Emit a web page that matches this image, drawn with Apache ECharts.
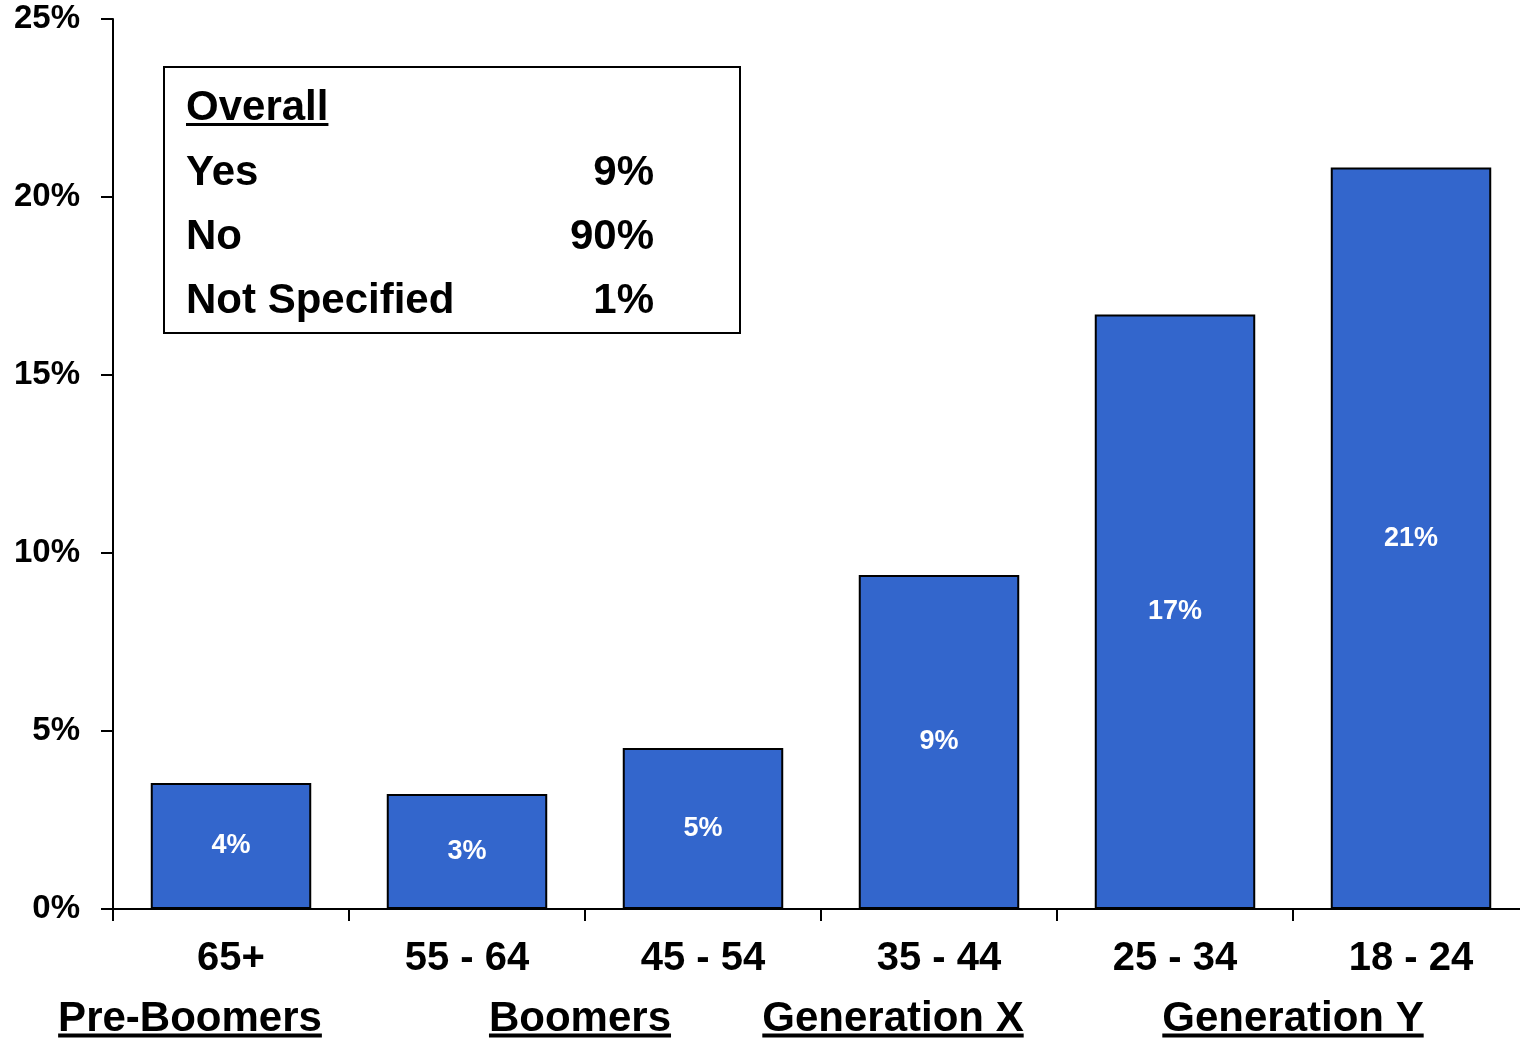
<!DOCTYPE html>
<html>
<head>
<meta charset="utf-8">
<title>Share answering Yes by age group</title>
<script src="https://cdn.jsdelivr.net/npm/echarts@6/dist/echarts.min.js"></script>
<style>
  html, body { margin: 0; padding: 0; background: #ffffff; }
  #chart { width: 1520px; height: 1040px; }
</style>
</head>
<body>
<div id="chart"></div>
<script>
// Age groups, oldest to youngest
const ageGroups = ['65+', '55 - 64', '45 - 54', '35 - 44', '25 - 34', '18 - 24'];
// Percentage answering "Yes" in each age group
const yesShare = [3.54, 3.23, 4.52, 9.38, 16.70, 20.83];
// Y axis scale
const yTicks = { min: 0, max: 25, interval: 5 };

// Overall breakdown shown in the inset box
const overallNames = ['Yes', 'No', 'Not Specified'];
const overallValues = [9, 90, 1];

// Generation bands written under the age labels
const generationNames = ['Pre-Boomers', 'Boomers', 'Generation X', 'Generation Y'];

const FONT = '"Liberation Sans", Arial, Helvetica, sans-serif';

function textWidth(str, size) {
  const ctx = document.createElement('canvas').getContext('2d');
  ctx.font = 'bold ' + size + 'px ' + FONT;
  return ctx.measureText(str).width;
}

// Underlined bold text (text + a rule beneath it)
function underlined(str, x, y, size, align, lineY, lineW) {
  const w = textWidth(str, size);
  const x0 = align === 'center' ? x - w / 2 : x;
  return [
    { type: 'text', x: x, y: y, z: 10,
      style: { text: str, fill: '#000', fontSize: size, fontWeight: 'bold',
               fontFamily: FONT, align: align, verticalAlign: 'middle' } },
    { type: 'line', z: 10,
      shape: { x1: x0, y1: lineY, x2: x0 + w, y2: lineY },
      style: { stroke: '#000', lineWidth: lineW } }
  ];
}

const graphics = [];

// Inset box with overall results
graphics.push({
  type: 'rect', z: 5,
  shape: { x: 164, y: 67, width: 576, height: 266 },
  style: { fill: '#ffffff', stroke: '#000', lineWidth: 2 }
});
graphics.push(...underlined('Overall', 186, 108, 42, 'left', 124.5, 3));
overallNames.forEach((name, i) => {
  const y = 173 + i * 64;
  graphics.push({ type: 'text', x: 186, y: y, z: 10,
    style: { text: name, fill: '#000', fontSize: 42, fontWeight: 'bold',
             fontFamily: FONT, align: 'left', verticalAlign: 'middle' } });
  graphics.push({ type: 'text', x: 654, y: y, z: 10,
    style: { text: overallValues[i] + '%', fill: '#000', fontSize: 42, fontWeight: 'bold',
             fontFamily: FONT, align: 'right', verticalAlign: 'middle' } });
});

// Generation labels
const generationX = [190, 580, 893, 1293];
generationNames.forEach((name, i) => {
  graphics.push(...underlined(name, generationX[i], 1019, 42, 'center', 1035.5, 4));
});

const chart = echarts.init(document.getElementById('chart'), null, { renderer: 'canvas' });

chart.setOption({
  animation: false,
  backgroundColor: '#ffffff',
  // plot area runs slightly past the right edge of the canvas
  grid: { left: 113, top: 19, bottom: 131, width: 1416, containLabel: false, outerBoundsMode: 'none' },
  xAxis: {
    type: 'category',
    data: ageGroups,
    boundaryGap: true,
    axisLine: { show: true, lineStyle: { color: '#000', width: 2 } },
    axisTick: { show: true, length: 12, alignWithLabel: false, lineStyle: { color: '#000', width: 2 } },
    axisLabel: { color: '#000', fontSize: 40, fontWeight: 'bold', fontFamily: FONT, margin: 30 },
    splitLine: { show: false }
  },
  yAxis: {
    type: 'value',
    min: yTicks.min,
    max: yTicks.max,
    interval: yTicks.interval,
    axisLine: { show: true, lineStyle: { color: '#000', width: 2 } },
    axisTick: { show: true, inside: false, length: 12, lineStyle: { color: '#000', width: 2 } },
    axisLabel: { color: '#000', fontSize: 33, fontWeight: 'bold', fontFamily: FONT, margin: 33,
                 padding: [6, 0, 0, 0], formatter: v => v + '%' },
    splitLine: { show: false }
  },
  series: [{
    type: 'bar',
    data: yesShare,
    barCategoryGap: '32%',
    itemStyle: { color: '#3366CC', borderColor: '#000', borderWidth: 2 },
    label: {
      show: true,
      position: 'inside',
      color: '#ffffff',
      fontSize: 27,
      fontWeight: 'bold',
      fontFamily: FONT,
      formatter: p => Math.round(p.value) + '%'
    }
  }],
  graphic: graphics
});
</script>
</body>
</html>
